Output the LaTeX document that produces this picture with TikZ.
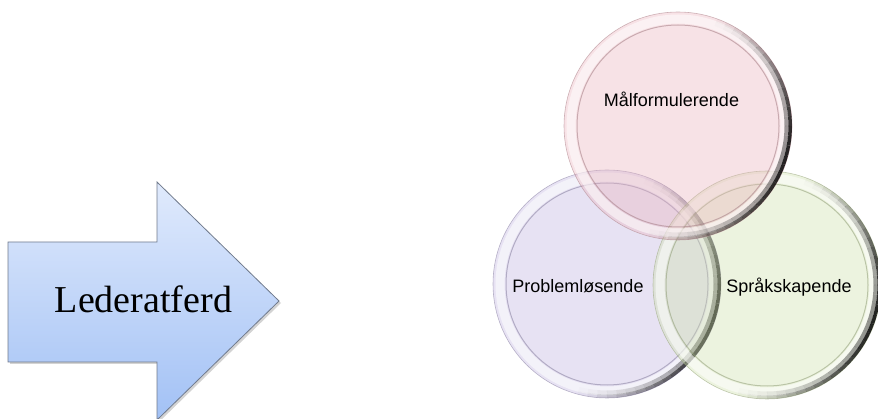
\documentclass[tikz,border=0pt]{standalone}
\usepackage{fontspec}
\setmainfont{Liberation Serif}
\newfontfamily\arialfont{Liberation Sans}
\usetikzlibrary{shadows}
\definecolor{pilTop}{RGB}{224,234,252}
\definecolor{pilBunn}{RGB}{162,193,245}
\definecolor{pilKant}{RGB}{112,122,140}
\definecolor{rosa}{RGB}{234,178,188}
\definecolor{lilla}{RGB}{192,180,224}
\definecolor{gronn}{RGB}{206,224,170}

\begin{document}
\begin{tikzpicture}[x=1pt,y=-1pt,
  venn/.style={circle, minimum size=228pt, inner sep=0pt},
  vtekst/.style={font=\arialfont\fontsize{18}{20}\selectfont, anchor=base}]
\useasboundingbox (0,0) rectangle (878,419);

% pil
\draw[pilKant, line width=.8pt, top color=pilTop, bottom color=pilBunn,
  drop shadow={opacity=.35, shadow xshift=2pt, shadow yshift=-2pt}]
  (8,242) -- (157,242) -- (157,182) -- (279,301) -- (157,420)
  -- (157,362) -- (8,362) -- cycle;
\node[font=\fontsize{38}{40}\selectfont, anchor=base] (leder) at (143.5,313) {Lederatferd};

% sirkler
\node[venn] (prob) at (607,284) {};
\node[venn] (sprak) at (767,285) {};
\node[venn] (maal) at (678,126) {};

\foreach \n/\f in {prob/lilla, sprak/gronn, maal/rosa}{
  \fill[\f, fill opacity=.38] (\n.center) circle[radius=114];
  \draw[white, line width=9pt, opacity=.55] (\n.center) circle[radius=107];
  \draw[\f!70!black, line width=1pt, opacity=.55] (\n.center) circle[radius=101];
  \draw[\f!75!black, line width=.6pt, opacity=.6] (\n.center) circle[radius=114];
  \foreach \a [evaluate=\a as \op using {0.85*max(0,cos(\a-15))^1.5},
               evaluate=\a as \oq using {0.4*max(0,cos(\a-15))^1.5}] in {-75,-70,...,100}{
    \draw[black, line width=3.5pt, draw opacity=\op] (\n.center) ++(\a:112.2)
      arc[start angle=\a, end angle=\a+5, radius=112.2];
    \draw[black, line width=4pt, draw opacity=\oq] (\n.center) ++(\a:108.5)
      arc[start angle=\a, end angle=\a+5, radius=108.5];
  }
}

\node[vtekst] (maaltekst) at (671.5,107) {Målformulerende};
\node[vtekst] (probtekst) at (578,293) {Problemløsende};
\node[vtekst] (spraktekst) at (789,293) {Språkskapende};
\end{tikzpicture}
\end{document}
